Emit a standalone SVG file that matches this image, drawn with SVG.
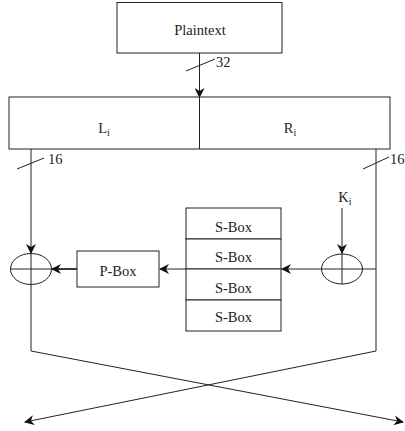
<svg xmlns="http://www.w3.org/2000/svg" width="405" height="431" viewBox="0 0 405 431">
  <style>
    .box { fill: #fff; stroke: #222; stroke-width: 1; }
    .ln { fill: none; stroke: #222; stroke-width: 1; }
    .thick { fill: none; stroke: #222; stroke-width: 1.8; }
    .t { font-family: "Liberation Serif", "Times New Roman", serif; font-size: 14.5px; fill: #222; text-anchor: middle; }
    .n { font-family: "Liberation Serif", "Times New Roman", serif; font-size: 14.5px; fill: #222; }
    .sub { font-size: 10px; }
  </style>
  <defs>
    <marker id="arr" markerWidth="10" markerHeight="10" refX="9" refY="5" orient="auto" markerUnits="userSpaceOnUse">
      <path d="M0,0 L10,5 L0,10 L3,5 Z" fill="#111"/>
    </marker>
  </defs>

  <g id="connectors">
    <!-- plaintext to Li/Ri -->
    <line class="ln" x1="199.5" y1="53" x2="199.5" y2="97" marker-end="url(#arr)"/>
    <line class="ln" x1="186" y1="71" x2="215" y2="59"/>
    <text class="n" x="216" y="67">32</text>
    <!-- left branch -->
    <line class="ln" x1="31" y1="149" x2="31" y2="253" marker-end="url(#arr)"/>
    <line class="ln" x1="31" y1="253" x2="31" y2="351"/>
    <line class="ln" x1="17" y1="169" x2="44" y2="158"/>
    <text class="n" x="48" y="164">16</text>
    <!-- right branch -->
    <line class="ln" x1="376" y1="149" x2="376" y2="351"/>
    <line class="ln" x1="363" y1="169" x2="389" y2="157"/>
    <text class="n" x="390" y="164">16</text>
    <!-- key into right xor -->
    <line class="ln" x1="342" y1="208" x2="342" y2="253" marker-end="url(#arr)"/>
    <!-- right xor to S-boxes -->
    <line class="ln" x1="376" y1="269" x2="282" y2="269" marker-end="url(#arr)"/>
    <!-- S-boxes to P-box -->
    <line class="thick" x1="200" y1="269" x2="186" y2="269"/>
    <line class="ln" x1="186" y1="269" x2="160" y2="269" marker-end="url(#arr)"/>
    <!-- P-box to left xor -->
    <line class="thick" x1="77" y1="269" x2="52" y2="269" marker-end="url(#arr)"/>
    <!-- swap -->
    <line class="ln" x1="31" y1="351" x2="403" y2="422" marker-end="url(#arr)"/>
    <line class="ln" x1="376" y1="351" x2="25" y2="422" marker-end="url(#arr)"/>
  </g>

  <g id="plaintext">
    <rect class="box" x="117" y="2.5" width="165" height="50.5"/>
    <text class="t" x="200" y="35">Plaintext</text>
  </g>

  <g id="halves">
    <rect class="box" x="9" y="97" width="381" height="52"/>
    <line class="ln" x1="199.5" y1="97" x2="199.5" y2="149"/>
    <text class="t" x="104" y="133">L<tspan class="sub" dy="3">i</tspan></text>
    <text class="t" x="290" y="133">R<tspan class="sub" dy="3">i</tspan></text>
  </g>

  <g id="xor-left">
    <ellipse class="ln" cx="31" cy="269" rx="20.5" ry="15.5"/>
    <line class="ln" x1="10.5" y1="269" x2="51.5" y2="269"/>
  </g>

  <g id="pbox">
    <rect class="box" x="77" y="251" width="82" height="36"/>
    <text class="t" x="118" y="276">P-Box</text>
  </g>

  <g id="sboxes">
    <rect class="box" x="186" y="208" width="95" height="31"/>
    <rect class="box" x="186" y="239" width="95" height="30"/>
    <rect class="box" x="186" y="269" width="95" height="31"/>
    <rect class="box" x="186" y="300" width="95" height="31"/>
    <text class="t" x="233.5" y="232">S-Box</text>
    <text class="t" x="233.5" y="262">S-Box</text>
    <text class="t" x="233.5" y="293">S-Box</text>
    <text class="t" x="233.5" y="322">S-Box</text>
  </g>

  <g id="xor-right">
    <ellipse class="ln" cx="342" cy="269" rx="20.5" ry="15"/>
    <line class="ln" x1="342" y1="253" x2="342" y2="284"/>
    <text class="t" x="345" y="202">K<tspan class="sub" dy="3">i</tspan></text>
  </g>
</svg>
